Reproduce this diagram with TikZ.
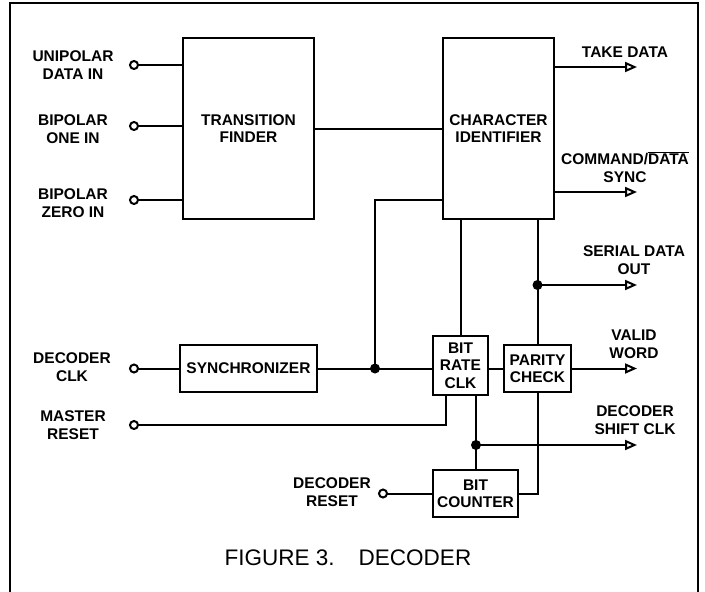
\documentclass[tikz,border=0pt]{standalone}
\usepackage{fontspec}
\setmainfont{Liberation Sans}
\usetikzlibrary{arrows.meta}

\begin{document}
\begin{tikzpicture}[x=1pt, y=-1pt, line width=2pt,
  every node/.style={inner sep=1pt, outer sep=0pt, align=center, font=\fontsize{15.5}{17.5}\selectfont\bfseries},
  block/.style={draw, fill=white},
  term/.style={draw, circle, minimum size=8pt, inner sep=0pt},
  jdot/.style={fill, circle, minimum size=10pt, inner sep=0pt},
  outarrow/.style={-{Triangle[open, length=12pt, width=10pt]}}]
\useasboundingbox (0,0) rectangle (705,592);
\draw (10,592) -- (10,3) -- (698,3) -- (698,592);

% blocks
\node[block, minimum width=131pt, minimum height=181pt] (tf) at (248.5,128.5) {TRANSITION\\FINDER};
\node[block, minimum width=111pt, minimum height=181pt] (ci) at (498.5,128.5) {CHARACTER\\IDENTIFIER};
\node[block, minimum width=137pt, minimum height=47pt] (sync) at (248.5,368.5) {SYNCHRONIZER};
\node[block, minimum width=55pt, minimum height=59pt] (brc) at (460.5,365.5) {BIT\\RATE\\CLK};
\node[block, minimum width=67pt, minimum height=47pt] (pc) at (537.5,368.5) {PARITY\\CHECK};
\node[block, minimum width=85pt, minimum height=47pt] (bc) at (475.5,493.5) {BIT\\COUNTER};

% input terminals
\node[term] (uin) at (134,65) {};
\node[term] (boin) at (134,126) {};
\node[term] (bzin) at (134,200) {};
\node[term] (clkin) at (134,368.5) {};
\node[term] (mrin) at (134,425) {};
\node[term] (drin) at (383,493.5) {};

\node (uinl) at (73,65) {UNIPOLAR\\DATA IN};
\node (boinl) at (73,129) {BIPOLAR\\ONE IN};
\node (bzinl) at (73,203) {BIPOLAR\\ZERO IN};
\node (clkinl) at (72,367) {DECODER\\CLK};
\node (mrinl) at (73,425) {MASTER\\RESET};
\node (drinl) at (332,492) {DECODER\\RESET};

% outputs
\coordinate (takeout) at (637,67);
\coordinate (cmdout) at (637,192);
\coordinate (serout) at (637,285);
\coordinate (validout) at (637,368.5);
\coordinate (shiftout) at (637,445);

\node (takel) at (625,52) {TAKE DATA};
\node (cmdl) at (625,167) {COMMAND/$\overline{\mbox{DATA}}$\\SYNC};
\node (serl) at (634,260) {SERIAL DATA\\OUT};
\node (validl) at (634,344) {VALID\\WORD};
\node (shiftl) at (635,420) {DECODER\\SHIFT CLK};

% junctions
\node[jdot] (j1) at (375,368.5) {};
\node[jdot] (j2) at (537.5,285) {};
\node[jdot] (j3) at (476,445) {};
\coordinate (cifb) at (443,200);
\coordinate (mrx) at (446,425);

% wiring
\draw (uin) -- (uin -| tf.west);
\draw (boin) -- (boin -| tf.west);
\draw (bzin) -- (bzin -| tf.west);
\draw (tf.east) -- (tf.east -| ci.west);
\draw[outarrow] (ci.east |- takeout) -- (takeout);
\draw[outarrow] (ci.east |- cmdout) -- (cmdout);
\draw (cifb) -- (j1 |- cifb) -- (j1.center);
\draw (clkin) -- (sync.west);
\draw (sync.east) -- (j1.center) -- (j1 -| brc.west);
\draw (brc.north) -- (brc.north |- ci.south);
\draw (brc.east |- pc.west) -- (pc.west);
\draw[outarrow] (pc.east) -- (validout);
\draw (pc.north) -- (pc.north |- ci.south);
\draw[outarrow] (j2.center) -- (serout);
\draw (mrin) -- (mrx) -- (mrx |- brc.south);
\draw (j3 |- brc.south) -- (j3.center) -- (j3 |- bc.north);
\draw[outarrow] (j3.center) -- (shiftout);
\draw (pc.south) -- (pc.south |- bc.east) -- (bc.east);
\draw (drin) -- (drin -| bc.west);

\node[font=\fontsize{22.5}{27}\selectfont] (caption) at (348,558) {FIGURE 3.\hspace{24pt}DECODER};
\end{tikzpicture}
\end{document}
